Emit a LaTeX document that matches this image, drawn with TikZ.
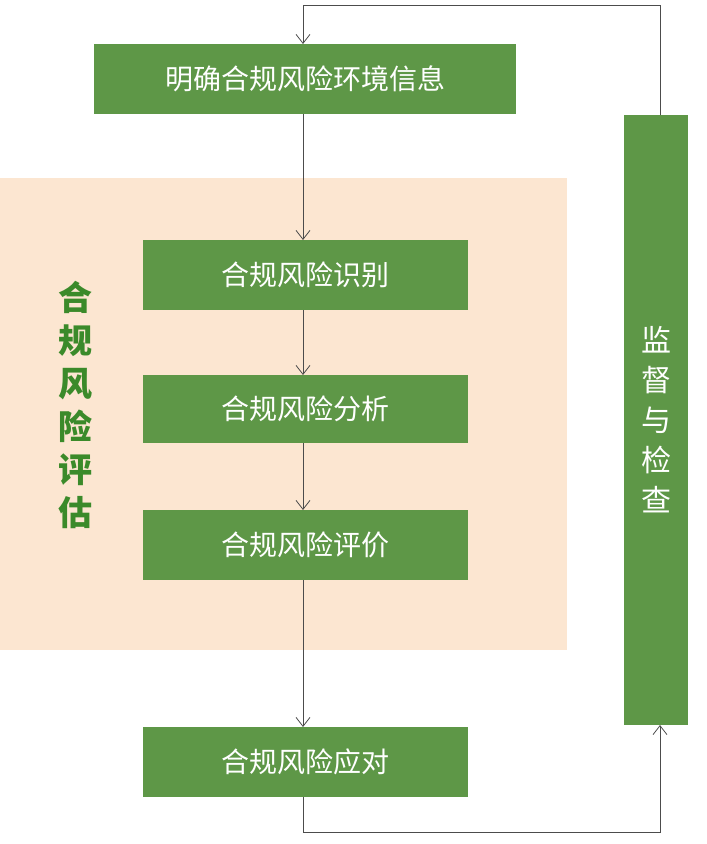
\documentclass[tikz,border=0pt]{standalone}
\usepackage{fontspec}
\setmainfont{Noto Sans CJK SC}
\usetikzlibrary{arrows.meta}
\definecolor{gbox}{HTML}{5E9747}
\definecolor{beige}{HTML}{FCE6D1}
\definecolor{gtext}{HTML}{3B8A2A}
\tikzset{
 gb/.style={fill=gbox,draw=none,text=white,font=\fontsize{28}{30}\selectfont,inner sep=0},
 ln/.style={draw=black!70,line width=0.8pt},
 ar/.style={ln,-{Straight Barb[length=9pt,width=14pt]}}
}
\begin{document}
\begin{tikzpicture}[x=1pt,y=-1pt]
\useasboundingbox (0,0) rectangle (707,844);
\fill[beige] (0,178) rectangle (567,650);
\node[gb,minimum width=422,minimum height=70] (env) at (305,79) {明确合规风险环境信息};
\node[gb,minimum width=325,minimum height=70] (id) at (305.5,275) {合规风险识别};
\node[gb,minimum width=325,minimum height=68] (an) at (305.5,409) {合规风险分析};
\node[gb,minimum width=325,minimum height=70] (ev) at (305.5,545) {合规风险评价};
\node[gb,minimum width=325,minimum height=70] (re) at (305.5,762) {合规风险应对};
\node[gb,minimum width=64,minimum height=610,font=\fontsize{30}{40}\selectfont,align=center] (mon) at (656,420) {监\\督\\与\\检\\查};
\node[text=gtext,font=\bfseries\fontsize{34}{43}\selectfont,align=center] (lab) at (75,405) {合\\规\\风\\险\\评\\估};
\draw[ar] (303,114) -- (303,240);
\draw[ar] (303,310) -- (303,375);
\draw[ar] (303,443) -- (303,510);
\draw[ar] (303,580) -- (303,727);
\coordinate (b1) at (303,832);
\coordinate (b2) at (660,832);
\draw[ar] (303,797) -- (b1) -- (b2) -- (660,725);
\coordinate (t1) at (660,5);
\coordinate (t2) at (303,5);
\draw[ar] (660,115) -- (t1) -- (t2) -- (303,44);
\end{tikzpicture}
\end{document}
